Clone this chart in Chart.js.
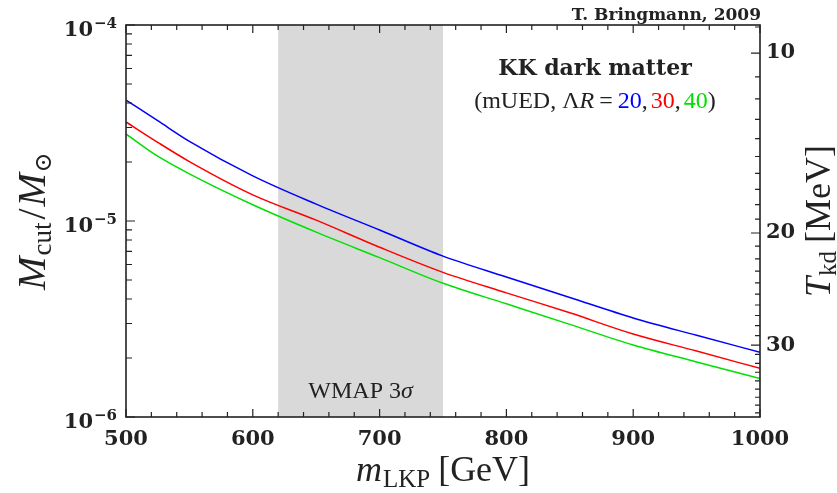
<!DOCTYPE html>
<html>
<head>
<meta charset="utf-8">
<script src="https://cdn.jsdelivr.net/npm/chart.js@4.4.1/dist/chart.umd.min.js"></script>
<style>
  html, body { margin: 0; padding: 0; background: #fff; }
</style>
</head>
<body>
<canvas id="chart" width="837" height="493"></canvas>
<script>
// data
const mLkp = [500, 525, 550, 600, 650, 700, 750, 800, 850, 900, 950, 1000];
const mcutLR20 = [4.14e-5, 3.25e-5, 2.55e-5, 1.70e-5, 1.22e-5, 9.0e-6, 6.62e-6, 5.18e-6, 4.07e-6, 3.20e-6, 2.61e-6, 2.14e-6];
const mcutLR30 = [3.20e-5, 2.52e-5, 2.01e-5, 1.36e-5, 1.01e-5, 7.35e-6, 5.47e-6, 4.30e-6, 3.40e-6, 2.65e-6, 2.17e-6, 1.77e-6];
const mcutLR40 = [2.78e-5, 2.14e-5, 1.74e-5, 1.21e-5, 8.77e-6, 6.50e-6, 4.81e-6, 3.78e-6, 2.97e-6, 2.33e-6, 1.91e-6, 1.57e-6];
const wmapBand = [620, 750];

// axes
const xRange = [500, 1000];
const xMinorStep = 20;
const yExponents = [-6, -5, -4];
const tkdLabels = [10, 20, 30];
const tkdMinor = [9, 11, 12, 13, 14, 15, 16, 17, 18, 19, 21, 22, 23, 24, 25, 26, 27, 28, 29, 31, 32, 33, 34, 35, 36, 37, 38];

// T_kd -> M_cut mapping for the right axis (fit to the tick marks)
function tkdToMcut(t) {
  const u = Math.log10(t) - 1;
  return Math.pow(10, -4.143 - 2.924 * u - 0.4185 * u * u);
}

const ink = '#222';
const serif = '"Liberation Serif", "DejaVu Serif", serif';
const boldSerif = '"DejaVu Serif", serif';

function drawRun(ctx, pieces, x, y, align) {
  let w = 0;
  pieces.forEach(p => { ctx.font = p.font; w += ctx.measureText(p.t).width + (p.gap || 0); });
  let cx = align === 'center' ? x - w / 2 : (align === 'right' ? x - w : x);
  ctx.textAlign = 'left';
  ctx.textBaseline = 'alphabetic';
  pieces.forEach(p => {
    ctx.font = p.font;
    ctx.fillStyle = p.color || ink;
    ctx.fillText(p.t, cx, y + (p.dy || 0));
    cx += ctx.measureText(p.t).width + (p.gap || 0);
  });
}

const decorPlugin = {
  id: 'decor',
  beforeDatasetsDraw(chart) {
    const { ctx, chartArea: a, scales } = chart;
    const x0 = scales.x.getPixelForValue(wmapBand[0]);
    const x1 = scales.x.getPixelForValue(wmapBand[1]);
    ctx.save();
    ctx.fillStyle = '#d9d9d9';
    ctx.fillRect(x0, a.top, x1 - x0, a.bottom - a.top);
    drawRun(ctx, [
      { t: 'WMAP 3', font: '24px ' + serif },
      { t: 'σ', font: 'italic 24px ' + serif }
    ], (x0 + x1) / 2, 398, 'center');
    ctx.restore();
  },
  afterDraw(chart) {
    const { ctx, chartArea: a, scales } = chart;
    const xs = scales.x, ys = scales.y, y2 = scales.y2;
    ctx.save();

    // inward tick marks
    ctx.strokeStyle = ink;
    ctx.lineWidth = 1.2;
    ctx.beginPath();
    for (let m = xRange[0]; m <= xRange[1]; m += xMinorStep) {
      const px = xs.getPixelForValue(m);
      const len = m % 100 === 0 ? 8 : 5;
      ctx.moveTo(px, a.bottom); ctx.lineTo(px, a.bottom - len);
      ctx.moveTo(px, a.top); ctx.lineTo(px, a.top + len);
    }
    yExponents.forEach(e => {
      for (let k = 1; k <= 9; k++) {
        const v = k * Math.pow(10, e);
        if (v > 1.0001e-4) break;
        const py = ys.getPixelForValue(v);
        ctx.moveTo(a.left, py); ctx.lineTo(a.left + (k === 1 ? 9 : 6), py);
      }
    });
    tkdLabels.concat(tkdMinor).forEach(t => {
      const py = y2.getPixelForValue(tkdToMcut(t));
      if (py < a.top - 0.5 || py > a.bottom + 0.5) return;
      const len = tkdLabels.includes(t) ? 9 : 5;
      ctx.moveTo(a.right, py); ctx.lineTo(a.right - len, py);
    });
    ctx.stroke();

    // frame
    ctx.lineWidth = 1.6;
    ctx.strokeRect(a.left, a.top, a.right - a.left, a.bottom - a.top);

    // left tick labels 10^e
    yExponents.forEach(e => {
      const py = ys.getPixelForValue(Math.pow(10, e));
      drawRun(ctx, [
        { t: '10', font: 'bold 21px ' + boldSerif, gap: 1 },
        { t: '\u2212' + Math.abs(e), font: 'bold 15px ' + boldSerif, dy: -8 }
      ], 117, py + 10.5, 'right');
    });

    // left axis title
    ctx.save();
    ctx.translate(45, (a.top + a.bottom) / 2);
    ctx.rotate(-Math.PI / 2);
    drawRun(ctx, [
      { t: 'M', font: 'italic 40px ' + serif, gap: 1 },
      { t: 'cut', font: '27px ' + serif, dy: 6, gap: 3 },
      { t: '/', font: '40px ' + serif, gap: 2 },
      { t: 'M', font: 'italic 40px ' + serif, gap: 1 },
      { t: '\u2299', font: '24px "DejaVu Serif", serif', dy: 6 }
    ], 0, 0, 'center');
    ctx.restore();

    // right axis title
    ctx.save();
    ctx.translate(830, (a.top + a.bottom) / 2);
    ctx.rotate(-Math.PI / 2);
    drawRun(ctx, [
      { t: 'T', font: 'italic 36px ' + serif, gap: 1 },
      { t: 'kd', font: '25px ' + serif, dy: 6, gap: 8 },
      { t: '[MeV]', font: '36px ' + serif }
    ], 0, 0, 'center');
    ctx.restore();

    // bottom axis title
    drawRun(ctx, [
      { t: 'm', font: 'italic 36px ' + serif, gap: 1 },
      { t: 'LKP', font: '25px ' + serif, dy: 6, gap: 8 },
      { t: '[GeV]', font: '36px ' + serif }
    ], (a.left + a.right) / 2, 481, 'center');

    // annotations
    drawRun(ctx, [{ t: 'T. Bringmann, 2009', font: 'bold 17px ' + boldSerif }], 761, 20, 'right');
    drawRun(ctx, [{ t: 'KK dark matter', font: 'bold 22px ' + boldSerif }], 595, 75, 'center');
    drawRun(ctx, [
      { t: '(mUED, \u039B', font: '24px ' + serif },
      { t: 'R', font: 'italic 24px ' + serif, gap: 5 },
      { t: '=', font: '24px ' + serif, gap: 5 },
      { t: '20', font: '24px ' + serif, color: '#0000ff' },
      { t: ',', font: '24px ' + serif, gap: 3 },
      { t: '30', font: '24px ' + serif, color: '#ff0000' },
      { t: ',', font: '24px ' + serif, gap: 3 },
      { t: '40', font: '24px ' + serif, color: '#00e000' },
      { t: ')', font: '24px ' + serif }
    ], 595, 108, 'center');

    ctx.restore();
  }
};

function series(values, color) {
  return {
    data: mLkp.map((m, i) => ({ x: m, y: values[i] })),
    borderColor: color,
    borderWidth: 1.5,
    pointRadius: 0,
    fill: false,
    cubicInterpolationMode: 'monotone'
  };
}

new Chart(document.getElementById('chart'), {
  type: 'line',
  data: {
    datasets: [
      series(mcutLR20, '#0000ff'),
      series(mcutLR30, '#ff0000'),
      series(mcutLR40, '#00e000')
    ]
  },
  plugins: [decorPlugin],
  options: {
    responsive: false,
    animation: false,
    layout: { padding: { left: 126, top: 25, right: 0, bottom: 0 } },
    plugins: { legend: { display: false }, tooltip: { enabled: false } },
    scales: {
      x: {
        type: 'linear',
        min: xRange[0],
        max: xRange[1],
        grid: { display: false, drawTicks: false },
        border: { display: false },
        ticks: {
          stepSize: 100,
          padding: 10,
          color: ink,
          font: { family: 'DejaVu Serif', weight: 'bold', size: 21 },
          callback: v => String(v)
        },
        afterFit: s => { s.height = 76; }
      },
      y: {
        type: 'logarithmic',
        display: false,
        min: 1e-6,
        max: 1e-4
      },
      y2: {
        type: 'logarithmic',
        position: 'right',
        min: 1e-6,
        max: 1e-4,
        grid: { display: false, drawTicks: false },
        border: { display: false },
        afterBuildTicks: s => { s.ticks = tkdLabels.map(t => ({ value: tkdToMcut(t) })); },
        ticks: {
          autoSkip: false,
          padding: 6,
          color: ink,
          font: { family: 'DejaVu Serif', weight: 'bold', size: 21 },
          callback: (v, i) => String(tkdLabels[i])
        },
        afterFit: s => { s.width = 77; }
      }
    }
  }
});
</script>
</body>
</html>
